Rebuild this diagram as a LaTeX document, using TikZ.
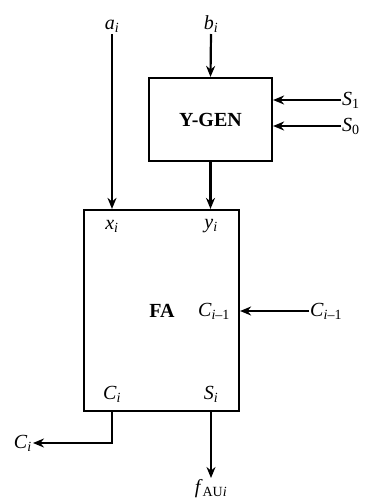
\documentclass[tikz,border=0pt]{standalone}
\usepackage{fontspec}
\setmainfont{Liberation Serif}
\usetikzlibrary{arrows.meta}
\newcommand\vsub[2]{\textit{#1}\textsubscript{#2}}
\begin{document}
\begin{tikzpicture}[x=1pt,y=-1pt,
  box/.style={draw,line width=2.2pt,inner sep=0pt},
  lbl/.style={inner sep=1pt,font=\fontsize{20}{24}\selectfont},
  wire/.style={line width=2.2pt},
  arr/.style={wire,-{Stealth[length=11pt,width=9pt]}}]
\useasboundingbox (0,0) rectangle (368,504);
% blocks
\node[box,minimum width=123pt,minimum height=83pt] (ygen) at (210.5,119.5) {};
\node[lbl,font=\fontsize{20}{24}\selectfont\bfseries] at (ygen.center) {Y-GEN};
\node[box,minimum width=155pt,minimum height=201pt] (fa) at (161.5,310.5) {};
\node[lbl,font=\fontsize{20}{24}\selectfont\bfseries] (falbl) at (162,311) {FA};
% inner port labels
\node[lbl] (xi) at (112,226) {\vsub{x}{\textit{i}}};
\node[lbl] (yi) at (211,226) {\vsub{y}{\textit{i}}};
\node[lbl] (cin) at (214,311) {\vsub{C}{\textit{i}--1}};
\node[lbl] (ci) at (112,394) {\vsub{C}{\textit{i}}};
\node[lbl] (si) at (211,394) {\vsub{S}{\textit{i}}};
% external labels
\node[lbl,anchor=south] (ai) at (112,34) {\vsub{a}{\textit{i}}};
\node[lbl,anchor=south] (bi) at (211,34) {\vsub{b}{\textit{i}}};
\node[lbl,anchor=west] (s1) at (341,100) {\vsub{S}{1}};
\node[lbl,anchor=west] (s0) at (341,126) {\vsub{S}{0}};
\node[lbl,anchor=west] (cinx) at (309,311) {\vsub{C}{\textit{i}--1}};
\node[lbl,anchor=east] (cout) at (33,443) {\vsub{C}{\textit{i}}};
\node[lbl,anchor=north] (fau) at (211,478) {\textit{f}\textsubscript{AU\textit{i}}};
% connectors
\draw[arr] (bi.south) -- (ygen.north);
\draw[arr] (s1.west) -- (s1.west -| ygen.east);
\draw[arr] (s0.west) -- (s0.west -| ygen.east);
\draw[arr] (ai.south) -- (ai.south |- fa.north);
\draw[arr] (ygen.south) -- (ygen.south |- fa.north);
\draw[arr] (cinx.west) -- (cinx.west -| fa.east);
\coordinate (ciout) at (ci |- fa.south);
\coordinate (bend) at (112,443);
\draw[arr] (ciout) -- (bend) -- (cout.east);
\coordinate (siout) at (si |- fa.south);
\draw[arr] (siout) -- (fau.north);
\end{tikzpicture}
\end{document}
